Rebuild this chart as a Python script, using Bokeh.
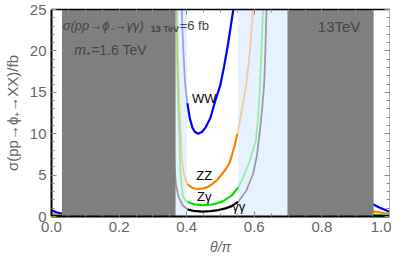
from bokeh.plotting import figure
from bokeh.models import Label, LinearAxis, FixedTicker, PrintfTickFormatter, Range1d, CustomJSTickFormatter
from bokeh.embed import file_html
from bokeh.resources import INLINE
import numpy as np

# ---------------- data ----------------
x_ticks = [0.0, 0.2, 0.4, 0.6, 0.8, 1.0]
x_minor = [round(0.05 * i, 2) for i in range(21)]
y_ticks = [0, 5, 10, 15, 20, 25]
y_minor = list(range(26))

gray_left = [0.031, 0.367]
gray_right = [0.698, 0.953]
blue_band = [0.367, 0.698]
white_band = [0.401, 0.552]

ww_x = [0.384, 0.388, 0.392, 0.395, 0.402, 0.409, 0.417, 0.425, 0.434, 0.445, 0.455,
        0.470, 0.484, 0.499, 0.510, 0.521, 0.538, 0.542]
ww_y = [26.5, 22.0, 18.5, 16.2, 13.7, 11.9, 10.7, 10.2, 10.0, 10.2, 10.7,
        11.9, 13.9, 15.8, 18.0, 20.5, 25.0, 26.2]

zz_x = [0.371, 0.373, 0.376, 0.380, 0.383, 0.386, 0.392, 0.402, 0.415, 0.425, 0.436,
        0.450, 0.463, 0.475, 0.490, 0.504, 0.517, 0.528, 0.542, 0.550, 0.557, 0.566,
        0.576, 0.586, 0.596, 0.600]
zz_y = [26.0, 22.0, 16.0, 12.0, 9.8, 6.6, 5.1, 3.9, 3.5, 3.35, 3.32,
        3.4, 3.6, 3.9, 4.4, 5.1, 5.8, 6.6, 8.6, 10.0, 11.5, 13.5,
        15.9, 19.5, 24.8, 26.5]

za_x = [0.368, 0.371, 0.375, 0.378, 0.381, 0.388, 0.395, 0.402, 0.420, 0.446, 0.475,
        0.504, 0.533, 0.552, 0.567, 0.586, 0.600, 0.604, 0.610, 0.616, 0.621, 0.626, 0.629]
za_y = [26.0, 20.0, 13.0, 9.8, 5.5, 2.53, 2.0, 1.76, 1.5, 1.36, 1.45,
        1.76, 2.53, 3.5, 4.7, 6.64, 8.6, 9.0, 11.5, 15.0, 20.0, 25.0, 27.0]

aa_x = [0.362, 0.365, 0.368, 0.376, 0.388, 0.402, 0.420, 0.446, 0.470, 0.494, 0.515,
        0.533, 0.552, 0.576, 0.596, 0.608, 0.615, 0.622, 0.629, 0.632, 0.636, 0.638]
aa_y = [8.0, 5.5, 3.9, 2.34, 1.36, 0.86, 0.68, 0.58, 0.65, 0.78, 0.98,
        1.25, 1.76, 3.1, 5.1, 7.4, 9.77, 12.5, 15.85, 19.0, 24.8, 27.0]

# edge pieces near theta = 0 and theta = pi
ww_edge_l = ([0.0, 0.015, 0.035], [0.75, 0.5, 0.28])
ww_edge_r = ([0.945, 0.97, 1.0], [1.6, 1.1, 0.58])
zz_edge_l = ([0.0, 0.035], [0.3, 0.12])
zz_edge_r = ([0.945, 1.0], [0.65, 0.3])
za_edge_l = ([0.0, 0.035], [0.12, 0.05])
za_edge_r = ([0.945, 1.0], [0.2, 0.1])
aa_edge_l = ([0.0, 0.035], [0.05, 0.02])
aa_edge_r = ([0.945, 1.0], [0.08, 0.04])

curves = [
    ("WW", ww_x, ww_y, ww_edge_l, ww_edge_r, "#0000ff"),
    ("ZZ", zz_x, zz_y, zz_edge_l, zz_edge_r, "#ff8000"),
    ("Zγ", za_x, za_y, za_edge_l, za_edge_r, "#00e000"),
    ("γγ", aa_x, aa_y, aa_edge_l, aa_edge_r, "#000000"),
]

label_pos = {"WW": (0.452, 14.2), "ZZ": (0.452, 5.0), "Zγ": (0.452, 2.45), "γγ": (0.554, 1.15)}

FONT = "Liberation Sans"
TICK_GRAY = "#666666"

p = figure(width=391, height=257, x_range=Range1d(0, 1), y_range=Range1d(0, 25),
           output_backend="svg", toolbar_location=None,
           x_axis_location=None, y_axis_location=None,
           min_border_left=47, min_border_right=2, min_border_top=9, min_border_bottom=35)
p.outline_line_color = None
p.xgrid.visible = False
p.ygrid.visible = False
p.background_fill_color = "white"
p.border_fill_color = "white"

# regions
p.quad(left=[blue_band[0]], right=[blue_band[1]], bottom=[0], top=[25],
       fill_color="#e6f2fd", line_color=None)
p.quad(left=[white_band[0]], right=[white_band[1]], bottom=[0], top=[25],
       fill_color="white", line_color=None)


def split(xs, ys, lo, hi):
    xs = np.asarray(xs); ys = np.asarray(ys)
    inside = np.where((xs >= lo) & (xs <= hi))[0]
    a, b = inside[0], inside[-1]
    return (xs[:a + 1], ys[:a + 1]), (xs[a:b + 1], ys[a:b + 1]), (xs[b:], ys[b:])


for name, xs, ys, el, er, col in curves:
    left, mid, right = split(xs, ys, white_band[0], white_band[1])
    for seg in (left, right):
        if len(seg[0]) > 1:
            p.line(seg[0], seg[1], line_color=col, line_alpha=0.35, line_width=1.8)
    p.line(mid[0], mid[1], line_color=col, line_width=2.2)
    p.line(el[0], el[1], line_color=col, line_width=2.2)
    p.line(er[0], er[1], line_color=col, line_width=2.2)

# gray excluded regions on top
p.quad(left=[gray_left[0], gray_right[0]], right=[gray_left[1], gray_right[1]],
       bottom=[0, 0], top=[25, 25], fill_color="#7f7f7f", line_color=None)

# curve labels
for name, (lx, ly) in label_pos.items():
    p.add_layout(Label(x=lx, y=ly, text=name, text_align="center", text_baseline="middle",
                       text_font=FONT, text_font_size="13px", text_color="black"))

# annotations
p.add_layout(Label(x=0.033, y=23.1, text="σ(pp→ϕ₋→γγ)", text_baseline="middle",
                   text_font=FONT, text_font_size="13px", text_font_style="italic"))
p.add_layout(Label(x=0.033, y=23.1, x_offset=88, y_offset=-4, text="13 TeV", text_baseline="middle",
                   text_font=FONT, text_font_size="9px", text_font_style="bold"))
p.add_layout(Label(x=0.033, y=23.1, x_offset=117, text="=6 fb", text_baseline="middle",
                   text_font=FONT, text_font_size="13px"))
p.add_layout(Label(x=0.067, y=20.1, text="m", text_baseline="middle",
                   text_font=FONT, text_font_size="14px", text_font_style="italic"))
p.add_layout(Label(x=0.067, y=20.1, x_offset=12, text="₊=1.6 TeV", text_baseline="middle",
                   text_font=FONT, text_font_size="14px"))
p.add_layout(Label(x=0.788, y=23.0, text="13TeV", text_baseline="middle",
                   text_font=FONT, text_font_size="15px"))

# axes
def style(ax, show_labels, line_col, line_w):
    ax.axis_line_color = line_col
    ax.axis_line_width = line_w
    ax.major_tick_in = 5
    ax.major_tick_out = 0
    ax.minor_tick_in = 3
    ax.minor_tick_out = 0
    ax.major_tick_line_color = "#888888"
    ax.minor_tick_line_color = "#888888"
    if show_labels:
        ax.major_label_text_font = FONT
        ax.major_label_text_font_size = "15px"
        ax.major_label_text_color = TICK_GRAY
        ax.axis_label_text_font = FONT
        ax.axis_label_text_color = TICK_GRAY
    else:
        ax.major_label_text_font_size = "1px"
        ax.major_label_standoff = 0


xb = LinearAxis(ticker=FixedTicker(ticks=x_ticks, minor_ticks=x_minor),
                formatter=PrintfTickFormatter(format="%.1f"))
style(xb, True, "black", 2)
xb.major_label_standoff = 5
xb.axis_label = "θ/π"
xb.axis_label_text_font_size = "14px"
xb.axis_label_text_font_style = "italic"
xb.axis_label_standoff = 4
p.add_layout(xb, "below")

yl = LinearAxis(ticker=FixedTicker(ticks=y_ticks, minor_ticks=y_minor),
                formatter=PrintfTickFormatter(format="%d"))
style(yl, True, "black", 2)
yl.major_label_standoff = 5
yl.axis_label = "σ(pp→ϕ₊→XX)/fb"
yl.axis_label_text_font_size = "15px"
yl.axis_label_text_font_style = "normal"
yl.axis_label_standoff = 6
p.add_layout(yl, "left")

blank = CustomJSTickFormatter(code="return ''")
xt = LinearAxis(ticker=FixedTicker(ticks=x_ticks, minor_ticks=x_minor), formatter=blank)
style(xt, False, "black", 1.5)
p.add_layout(xt, "above")

yr = LinearAxis(ticker=FixedTicker(ticks=y_ticks, minor_ticks=y_minor), formatter=blank)
style(yr, False, "#b0b0b0", 1)
p.add_layout(yr, "right")

open("out.html", "w").write(file_html(p, INLINE))
